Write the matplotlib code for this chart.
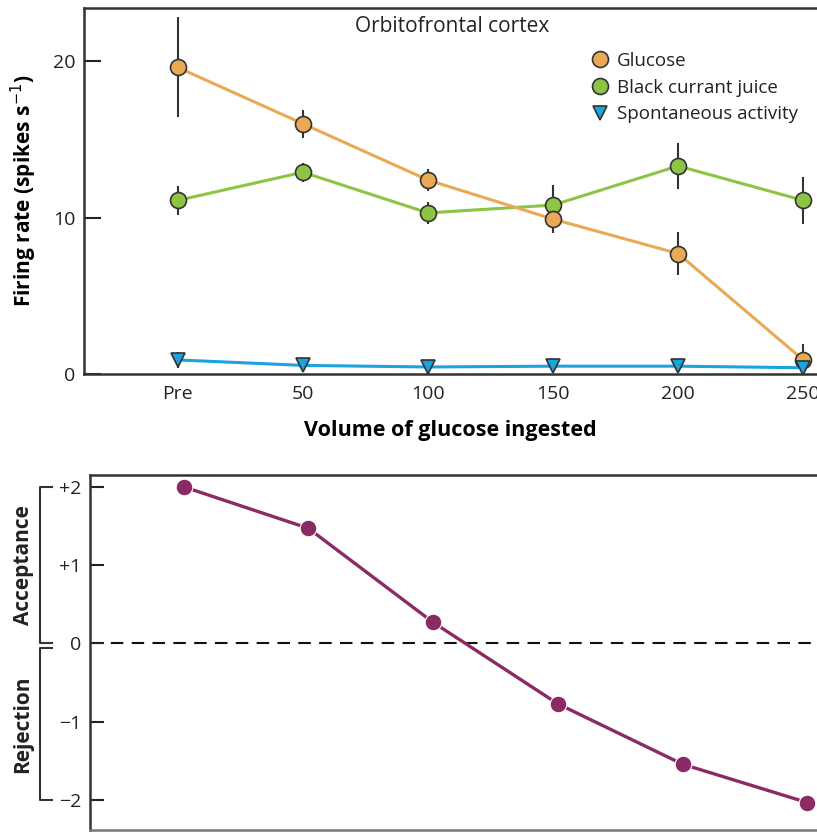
import matplotlib
matplotlib.use("Agg")
import matplotlib.pyplot as plt
from matplotlib.lines import Line2D
from matplotlib.transforms import blended_transform_factory

plt.rcParams['font.family'] = ['Open Sans', 'DejaVu Sans']

categories = ["Pre", "50", "100", "150", "200", "250"]
glucose = [19.6, 16.0, 12.4, 9.9, 7.7, 0.9]
glucose_err = [3.2, 0.9, 0.7, 0.9, 1.4, 1.0]
blackcurrant = [11.1, 12.9, 10.3, 10.8, 13.3, 11.1]
blackcurrant_err = [0.95, 0.6, 0.7, 1.3, 1.45, 1.5]
spontaneous = [0.9, 0.55, 0.45, 0.5, 0.5, 0.4]
spontaneous_err = [0.5, 0.3, 0.3, 0.3, 0.3, 0.3]
acceptance = [2.0, 1.47, 0.27, -0.77, -1.54, -2.03]

c_glu = "#E9A955"
c_bc = "#8DC444"
c_sp = "#1BA3DD"
c_pur = "#8A2C63"
c_err = "#333333"

W, H = 817, 832
fig = plt.figure(figsize=(W / 100, H / 100), dpi=100)

def ax_rect(l, t, r, b):
    return [l / W, 1 - b / H, (r - l) / W, (b - t) / H]

x = list(range(len(categories)))

# ---- top panel
ax1 = fig.add_axes(ax_rect(84, 8, 817, 374))
for y, e, c, m, ms in [(blackcurrant, blackcurrant_err, c_bc, 'o', 11.5),
                       (glucose, glucose_err, c_glu, 'o', 11.5),
                       (spontaneous, spontaneous_err, c_sp, 'v', 10)]:
    ax1.plot(x, y, color=c, lw=2.2, zorder=2)
    ax1.errorbar(x, y, yerr=e, fmt='none', ecolor=c_err, elinewidth=1.5, capsize=0, zorder=3)
    ax1.plot(x, y, ls='none', marker=m, ms=ms, mfc=c, mec=c_err, mew=1.2, zorder=4, clip_on=False)
ax1.set_xlim(-0.75, 5.11)
ax1.set_ylim(0, 23.4)
ax1.set_yticks([0, 10, 20])
ax1.set_xticks(x)
ax1.set_xticklabels(categories)
ax1.tick_params(axis='y', direction='in', length=12, width=1.5, labelsize=14, pad=6, colors='#222222')
ax1.tick_params(axis='x', length=0, labelsize=14, pad=8, colors='#222222')
ax1.spines['right'].set_visible(False)
for s in ['left', 'top', 'bottom']:
    ax1.spines[s].set_linewidth(1.8)
    ax1.spines[s].set_color('#333333')
ax1.set_xlabel("Volume of glucose ingested", fontsize=15.5, fontweight='bold', labelpad=12)
ax1.set_ylabel("Firing rate (spikes s$^{-1}$)", fontsize=15, fontweight='bold', labelpad=10)
fig.text(452 / W, 1 - 26 / H, "Orbitofrontal cortex", fontsize=15,
         ha='center', va='center', color='#222222')

handles = [
    Line2D([], [], ls='none', marker='o', ms=11.5, mfc=c_glu, mec=c_err, mew=1.2),
    Line2D([], [], ls='none', marker='o', ms=11.5, mfc=c_bc, mec=c_err, mew=1.2),
    Line2D([], [], ls='none', marker='v', ms=10, mfc=c_sp, mec=c_err, mew=1.2),
]
leg = ax1.legend(handles, ["Glucose", "Black currant juice", "Spontaneous activity"],
                 loc='upper left', bbox_to_anchor=((591 - 84) / (817 - 84), 1 - (52 - 8) / 366),
                 frameon=False, fontsize=13.5, handlelength=1.0, handletextpad=0.4,
                 labelspacing=0.46, borderaxespad=0, borderpad=0)
for t in leg.get_texts():
    t.set_color('#222222')

# ---- bottom panel
ax2 = fig.add_axes(ax_rect(90, 475, 841, 830))
ax2.plot(x, acceptance, color=c_pur, lw=2.4, marker='o', ms=12, mfc=c_pur, mec='white', mew=0.8,
         zorder=3, clip_on=False)
ax2.axhline(0, color='#111111', lw=1.5, ls=(0, (6, 4)), zorder=1)
ax2.set_xlim(-0.75, 5.27)
ax2.set_ylim(-2.38, 2.15)
ax2.set_yticks([-2, -1, 0, 1, 2])
ax2.set_yticklabels(["\u22122", "\u22121", "0", "+1", "+2"])
ax2.set_xticks([])
ax2.tick_params(axis='y', direction='in', length=10, width=1.5, labelsize=14, pad=6, colors='#222222')
ax2.spines['right'].set_visible(False)
for s in ['left', 'top']:
    ax2.spines[s].set_linewidth(1.8)
    ax2.spines[s].set_color('#333333')
ax2.spines['bottom'].set_linewidth(1.8)
ax2.spines['bottom'].set_color('#777777')

tr = blended_transform_factory(fig.transFigure, ax2.transData)
def px(v):
    return v / W
for (y0, y1) in [(2.0, 0.0), (-0.06, -2.0)]:
    ax2.plot([px(52), px(40), px(40), px(52)], [y0, y0, y1, y1], color='#333333', lw=1.5,
             transform=tr, clip_on=False)
ax2.text(px(23), 1.0, "Acceptance", transform=tr, rotation=90, ha='center', va='center',
         fontsize=15, fontweight='bold', color='#222222')
ax2.text(px(23), -1.03, "Rejection", transform=tr, rotation=90, ha='center', va='center',
         fontsize=15, fontweight='bold', color='#222222')

fig.savefig("out.png", dpi=100)
